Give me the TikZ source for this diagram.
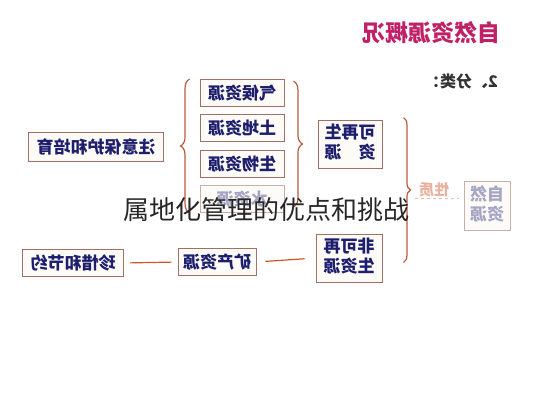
\documentclass[tikz,border=0pt]{standalone}
\usepackage{fontspec}
\newfontfamily\cjk{Noto Sans CJK SC}
\usepackage{tikz}
\usetikzlibrary{positioning,calc,decorations.pathreplacing}
\definecolor{BoxText}{RGB}{30,30,110}
\definecolor{BoxLine}{RGB}{160,112,100}
\definecolor{BoxFill}{RGB}{253,251,247}
\definecolor{BraceRed}{RGB}{182,92,62}
\definecolor{LinkRed}{RGB}{205,85,45}
\definecolor{TitlePink}{RGB}{192,32,102}
\newcommand{\mir}[1]{\reflectbox{#1}}

\begin{document}
\begin{tikzpicture}[x=1pt, y=-1pt,
    res/.style={rectangle, draw=BoxLine, fill=BoxFill, line width=0.9pt, minimum width=84pt, minimum height=27pt, inner sep=2pt, font=\cjk\bfseries\fontsize{17}{19}\selectfont, text=BoxText},
    tall/.style={res, minimum width=64pt, minimum height=48pt, align=center},
    faded/.style={draw=BoxLine!55, text=BoxText!40},
    grp/.style={decorate, decoration={brace, amplitude=9pt}, draw=BraceRed, line width=1.2pt},
    link/.style={draw=LinkRed, line width=1.2pt}
]
    \useasboundingbox (0,0) rectangle (533,400);

    % Title
    \node[font=\cjk\bfseries\fontsize{23}{26}\selectfont, text=TitlePink] (title) at (431,33) {\mir{自然资源概况}};
    \node[font=\cjk\bfseries\fontsize{16}{18}\selectfont, text=black!80] (fenlei) at (461,81) {\mir{2、分类：}};

    % Renewable column
    \node[res] (qihou) at (242,93) {\mir{气候资源}};
    \node[res] (tudi) at (242,128) {\mir{土地资源}};
    \node[res] (shengwu) at (242,164) {\mir{生物资源}};
    \node[res, faded] (shui) at (242,199) {\mir{水资源}};
    \node[res, minimum width=135pt, minimum height=29pt] (baohu) at (96,147) {\mir{注意保护和培育}};
    \node[tall] (kezai) at (350,144) {\mir{\begin{tabular}{@{}c@{}}可再生\\资\hspace{1em}源\end{tabular}}};

    % Non-renewable row
    \node[tall, minimum width=66pt] (feike) at (349,258) {\mir{\begin{tabular}{@{}c@{}}非可再\\生资源\end{tabular}}};
    \node[res, minimum width=78pt] (kuang) at (217,262) {\mir{矿产资源}};
    \node[res, minimum width=101pt] (zhenxi) at (73,263) {\mir{珍惜和节约}};

    % Nature
    \node[font=\cjk\bfseries\fontsize{15}{17}\selectfont, text=LinkRed!45] (xingzhi) at (434,190) {\mir{性质}};
    \node[tall, faded, minimum width=46pt, minimum height=49pt] (ziran) at (487,206) {\mir{\begin{tabular}{@{}c@{}}自然\\资源\end{tabular}}};

    % Braces
    \coordinate (lb1) at ($(shui.south west)+(-10,0)$);
    \coordinate (lb2) at ($(qihou.north west)+(-10,0)$);
    \coordinate (rb1) at ($(qihou.north east)+(9,2)$);
    \coordinate (rb2) at ($(shui.south east)+(9,-6)$);
    \coordinate (bb1) at ($(kezai.north east)+(21,-2)$);
    \coordinate (bb2) at ($(feike.south east)+(21,-20)$);
    \draw[grp] (lb1) -- (lb2);
    \draw[grp] (rb1) -- (rb2);
    \draw[grp, decoration={amplitude=7pt}] (bb1) -- (bb2);

    % Links
    \draw[link, shorten >=6pt, shorten <=6pt] (kuang.west) -- (zhenxi.east);
    \draw[link, shorten >=9pt, shorten <=11pt] (feike.west) -- (kuang.east);
    \draw[dashed, draw=LinkRed!40, line width=1pt] ($(xingzhi.south west)+(0,-2)$) -- ($(xingzhi.south east)+(6,-2)$);

    % Overlay caption
    \node[font=\cjk\fontsize{26}{29}\selectfont, text=black!85] (caption) at (266,210) {属地化管理的优点和挑战};
\end{tikzpicture}
\end{document}
